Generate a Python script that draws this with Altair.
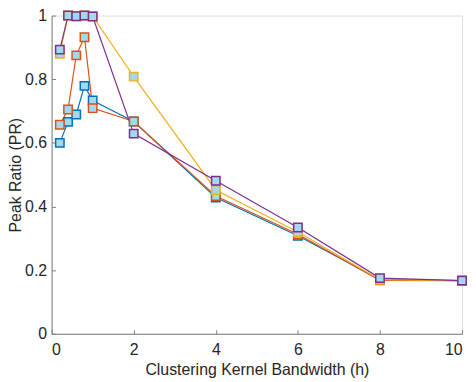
import altair as alt
import pandas as pd

bandwidth = [0.2, 0.4, 0.6, 0.8, 1, 2, 4, 6, 8, 10]
series_names = ["S1", "S2", "S3", "S4"]
s1 = [0.600, 0.666, 0.689, 0.779, 0.733, 0.667, 0.428, 0.308, 0.170, 0.167]
s2 = [0.657, 0.705, 0.875, 0.932, 0.709, 0.667, 0.433, 0.313, 0.168, 0.167]
s3 = [0.880, 1.000, 0.998, 1.000, 0.998, 0.808, 0.452, 0.320, 0.170, 0.167]
s4 = [0.893, 1.000, 0.998, 1.000, 0.997, 0.629, 0.481, 0.334, 0.175, 0.167]
colors = ["#0072BD", "#D95319", "#EDB120", "#7E2F8E"]
x_ticks = [0, 2, 4, 6, 8, 10]
y_ticks = [0, 0.2, 0.4, 0.6, 0.8, 1]

rows = []
for k, (name, vals) in enumerate(zip(series_names, [s1, s2, s3, s4])):
    for i, (x, y) in enumerate(zip(bandwidth, vals)):
        rows.append({"h": x, "PR": y, "series": name, "order": k, "idx": i})
df = pd.DataFrame(rows)

W, H = 414, 321
FONT = "Liberation Sans"
AX = "#808080"
TXT = "#262626"
FS = 16

xs = alt.Scale(domain=[0, 10], nice=False)
ys = alt.Scale(domain=[0, 1], nice=False)
cs = alt.Scale(domain=series_names, range=colors)

lines = alt.Chart(df).mark_line(strokeWidth=1.2).encode(
    x=alt.X("h:Q", scale=xs, axis=alt.Axis(
        values=x_ticks, title="Clustering Kernel Bandwidth (h)", ticks=False,
        domainColor=AX, domainWidth=1, labelFont=FONT, labelFontSize=FS,
        labelColor=TXT, titleFont=FONT, titleFontSize=FS, titleColor=TXT,
        titleFontWeight="normal", labelPadding=8, titlePadding=4, grid=False)),
    y=alt.Y("PR:Q", scale=ys, axis=alt.Axis(
        values=y_ticks, format="~g", title="Peak Ratio (PR)", ticks=False,
        domainColor=AX, domainWidth=1, labelFont=FONT, labelFontSize=FS,
        labelColor=TXT, titleFont=FONT, titleFontSize=FS, titleColor=TXT,
        titleFontWeight="normal", labelPadding=5, titlePadding=1, grid=False)),
    color=alt.Color("series:N", scale=cs, legend=None),
    detail="series:N",
    order="idx:Q",
)

points = alt.Chart(df).mark_point(
    shape="square", filled=False, fill="#a3d9e9", fillOpacity=1,
    strokeWidth=1.5, size=72, opacity=1,
).encode(
    x=alt.X("h:Q", scale=xs, axis=alt.Axis(
        orient="top", offset=-H, values=x_ticks, labels=False, domain=False,
        ticks=True, tickSize=4, tickColor=AX, title=None, grid=False)),
    y=alt.Y("PR:Q", scale=ys, axis=alt.Axis(
        orient="right", offset=-W, values=y_ticks, labels=False, domain=False,
        ticks=True, tickSize=4, tickColor=AX, title=None, grid=False)),
    stroke=alt.Color("series:N", scale=cs, legend=None),
    order="order:Q",
)

chart = alt.layer(lines, points).resolve_axis(x="independent", y="independent").properties(
    width=W, height=H,
    autosize=alt.AutoSizeParams(type="none"),
    padding={"left": 44, "top": 6, "right": 6, "bottom": 48},
).configure_view(stroke=None).configure(background="white")

chart.save("out.html", embed_options={"renderer": "svg", "actions": False})
